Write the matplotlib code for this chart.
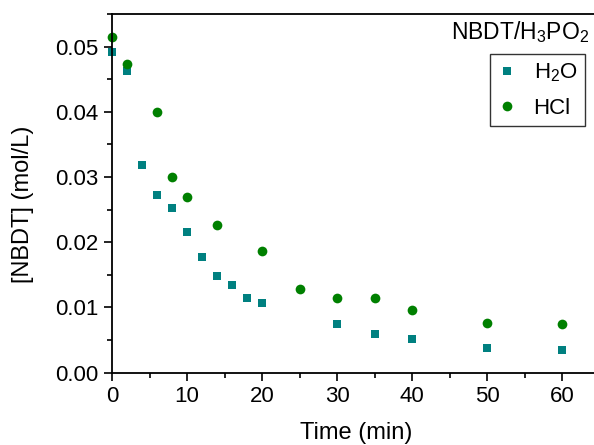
import matplotlib
matplotlib.use('Agg')
import matplotlib.pyplot as plt
from matplotlib.ticker import MultipleLocator

plt.rcParams['font.family'] = ['Liberation Sans', 'DejaVu Sans']
plt.rcParams['mathtext.fontset'] = 'custom'
plt.rcParams['mathtext.rm'] = 'Liberation Sans'
plt.rcParams['mathtext.it'] = 'Liberation Sans:italic'
plt.rcParams['mathtext.bf'] = 'Liberation Sans:bold'

# data
t_h2o = [0, 2, 4, 6, 8, 10, 12, 14, 16, 18, 20, 30, 35, 40, 50, 60]
c_h2o = [0.0491, 0.0462, 0.0319, 0.0273, 0.0253, 0.0215, 0.0178, 0.0148,
         0.0134, 0.0115, 0.0107, 0.0075, 0.0060, 0.0052, 0.0038, 0.0035]
t_hcl = [0, 2, 6, 8, 10, 14, 20, 25, 30, 35, 40, 50, 60]
c_hcl = [0.0515, 0.0473, 0.0399, 0.0300, 0.0270, 0.0226, 0.0187, 0.0128,
         0.0115, 0.0115, 0.0096, 0.0076, 0.0074]

fig = plt.figure(figsize=(5.94, 4.45), dpi=100)
# right edge is cut off in the original, axes run past the figure
ax = fig.add_axes([112/594, 1 - 372.7/445, 487.5/594, 358.7/445])

ax.plot(t_h2o, c_h2o, 's', color='#008080', ms=6, mew=0, label=r'H$_\mathregular{2}$O', clip_on=False)
ax.plot(t_hcl, c_hcl, 'o', color='#008000', ms=7, mew=0, label='HCl', clip_on=False)

ax.set_xlim(0, 65)
ax.set_ylim(0, 0.055)
ax.xaxis.set_major_locator(MultipleLocator(10))
ax.xaxis.set_minor_locator(MultipleLocator(5))
ax.yaxis.set_major_locator(MultipleLocator(0.01))
ax.yaxis.set_minor_locator(MultipleLocator(0.005))
ax.yaxis.set_major_formatter(plt.FormatStrFormatter('%.2f'))

ax.tick_params(which='major', direction='out', length=6, width=1.2, labelsize=16)
ax.tick_params(which='minor', direction='out', length=3.5, width=1.2)
ax.tick_params(top=False, right=False)
for s in ax.spines.values():
    s.set_linewidth(1.3)

ax.set_xlabel('Time (min)', fontsize=17)
ax.set_ylabel('[NBDT] (mol/L)', fontsize=17)
ax.xaxis.set_label_coords(0.5, -(433 - 372.7) / 358.7, transform=ax.transAxes)
ax.yaxis.set_label_coords(-(112 - 23) / 487.5, (372.7 - 204) / 358.7, transform=ax.transAxes)
ax.xaxis.label.set_va('center')
ax.yaxis.label.set_va('center')

fig.text(589/594, 1 - 32/445, r'NBDT/H$_\mathregular{3}$PO$_\mathregular{2}$', fontsize=16.5,
         ha='right', va='center')
leg = ax.legend(loc='upper right', bbox_to_anchor=(585/594, 1 - 54/445),
                bbox_transform=fig.transFigure, fontsize=16, frameon=True,
                fancybox=False, edgecolor='black', handlelength=0.8,
                handletextpad=0.8, borderpad=0.35, labelspacing=0.6,
                borderaxespad=0)
leg.get_frame().set_linewidth(1.0)

fig.savefig('out.png', dpi=100)
